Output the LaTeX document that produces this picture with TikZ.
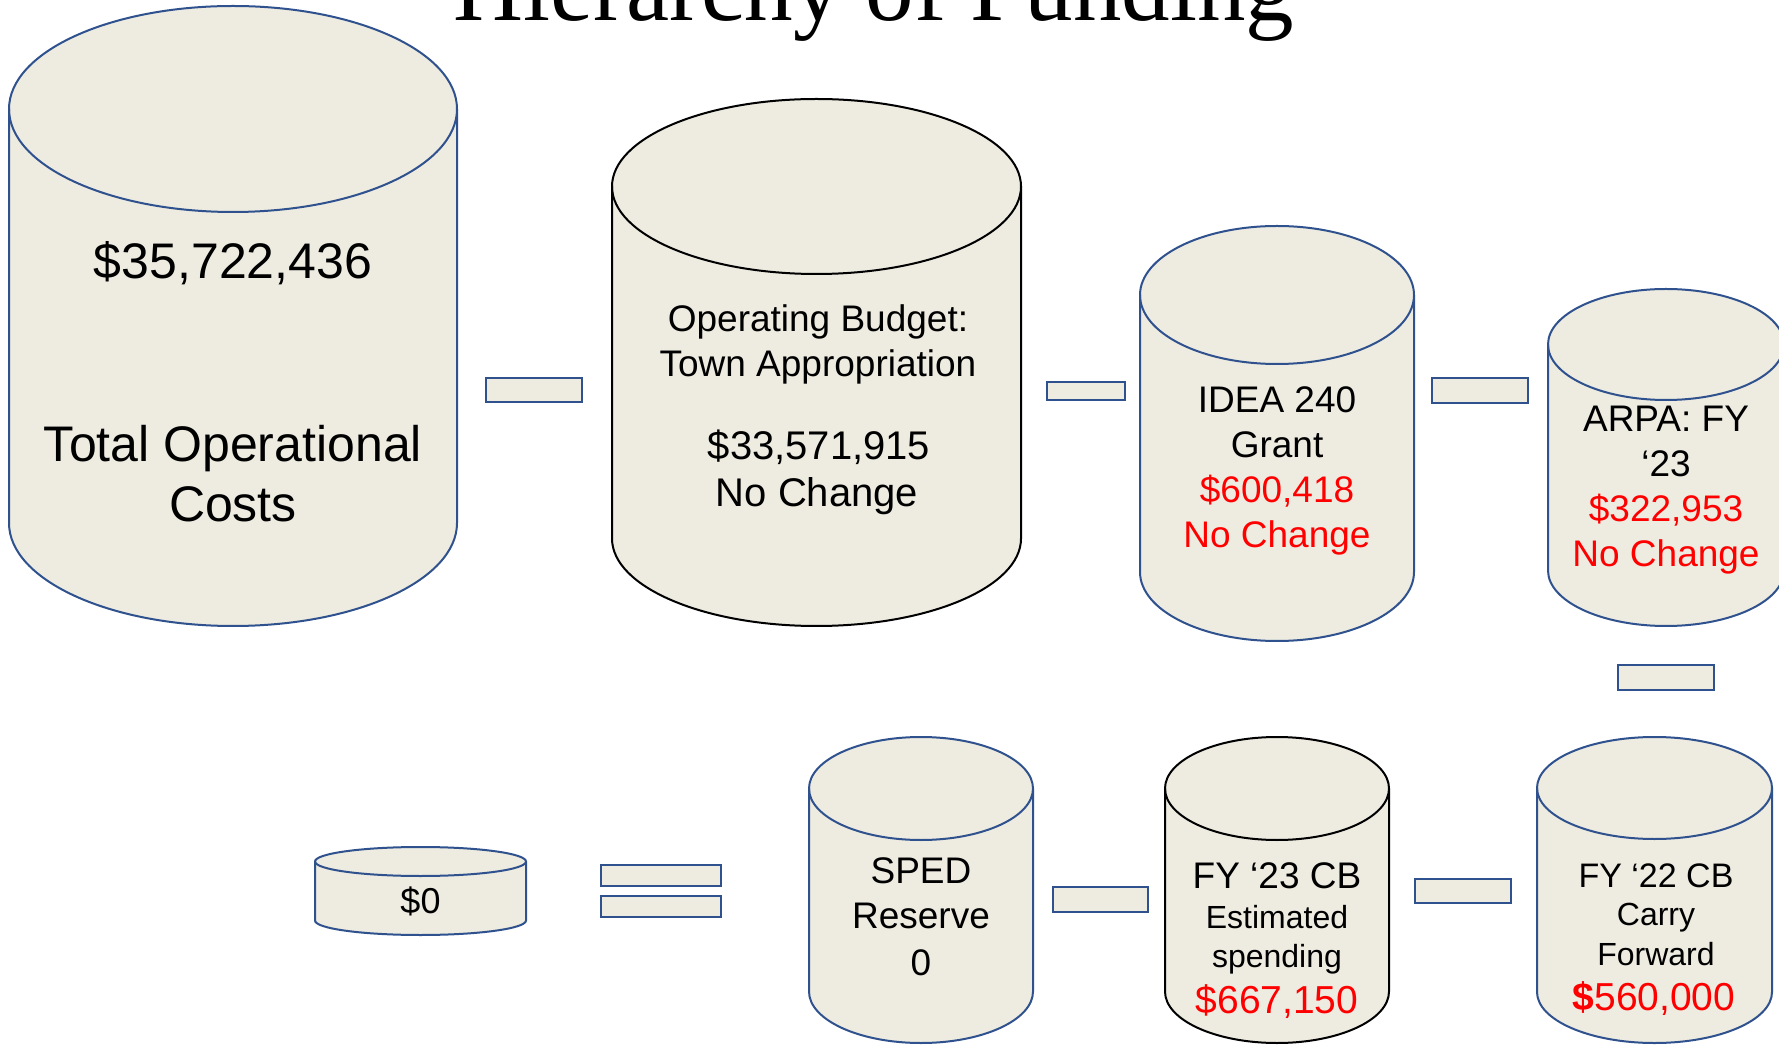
\documentclass[tikz,border=0pt]{standalone}
\usepackage{fontspec}
\setmainfont{Liberation Sans}
\newfontfamily\titlefont{Liberation Serif}
\definecolor{cylfill}{HTML}{EEECE1}
\definecolor{cylblue}{HTML}{2F528F}
\definecolor{txtred}{HTML}{FF0000}
\newcommand\fsz[1]{\fontsize{#1}{#1}\selectfont}
\newcommand\cylshape[6]{%
  \filldraw[line width=2pt, fill=cylfill, draw=#6] ({#1-#4},{#2-#5}) -- ({#1-#4},{#3+#5})
    arc[start angle=180,end angle=360,x radius=#4,y radius=#5] -- ({#1+#4},{#2-#5})
    arc[start angle=0,end angle=180,x radius=#4,y radius=#5] -- cycle;
  \draw[line width=2pt, draw=#6] ({#1-#4},{#2-#5})
    arc[start angle=180,end angle=360,x radius=#4,y radius=#5];
}
\tikzset{
  link/.style={draw=cylblue, fill=cylfill, line width=2pt, inner sep=0pt, outer sep=0pt},
  lbl/.style={anchor=base, inner sep=0pt, text=black},
  red/.style={text=txtred}
}
\begin{document}
\begin{tikzpicture}[x=1pt,y=1pt]
\useasboundingbox (0,0) rectangle (1779,1045);
\clip (0,0) rectangle (1779,1045);
\fill[white] (0,0) rectangle (1779,1045);

% title
\node[lbl] (title) at (874,1024) {\titlefont\fsz{97}Hierarchy of Funding};

% cylinders
\cylshape{233}{1039}{419}{224}{103}{cylblue}
\cylshape{816.5}{946}{419}{204.5}{87.5}{black}
\cylshape{1277}{819}{404}{137}{69}{cylblue}
\cylshape{1666}{756}{419}{118}{55.5}{cylblue}
\cylshape{420.5}{198}{110}{105.5}{14.5}{cylblue}
\cylshape{921}{308}{2}{112}{51.5}{cylblue}
\cylshape{1277}{308}{2}{112}{51.5}{black}
\cylshape{1654.5}{308}{2}{117.5}{51}{cylblue}

% link rectangles
\node[link, minimum width=96pt, minimum height=24pt] (r1) at (534,655) {};
\node[link, minimum width=78pt, minimum height=18pt] (r2) at (1086,654) {};
\node[link, minimum width=96pt, minimum height=25pt] (r3) at (1480,654.5) {};
\node[link, minimum width=96pt, minimum height=25pt] (r4) at (1666,367.5) {};
\node[link, minimum width=95pt, minimum height=25pt] (r5) at (1100.5,145.5) {};
\node[link, minimum width=96pt, minimum height=24pt] (r6) at (1463,154) {};
\node[link, minimum width=120pt, minimum height=21pt] (eq1) at (661,169.5) {};
\node[link, minimum width=120pt, minimum height=21pt] (eq2) at (661,138.5) {};

% texts: total
\node[lbl] (t1a) at (233,766) {\fsz{50}\$35,722,436};
\node[lbl] (t1b) at (233,583) {\fsz{50}Total Operational};
\node[lbl] (t1c) at (233,523) {\fsz{50}Costs};
% operating budget
\node[lbl] (t2a) at (818,713) {\fsz{37}Operating Budget:};
\node[lbl] (t2b) at (818,668) {\fsz{37}Town Appropriation};
\node[lbl] (t2c) at (819,585) {\fsz{40}\$33,571,915};
\node[lbl] (t2d) at (817,538) {\fsz{40}No Change};
% IDEA
\node[lbl] (t3a) at (1277,632) {\fsz{37}IDEA 240};
\node[lbl] (t3b) at (1277,587) {\fsz{37}Grant};
\node[lbl, red] (t3c) at (1277,542) {\fsz{37}\$600,418};
\node[lbl, red] (t3d) at (1277,497) {\fsz{37}No Change};
% ARPA
\node[lbl] (t4a) at (1666,613) {\fsz{37}ARPA: FY};
\node[lbl] (t4b) at (1666,568) {\fsz{37}‘23};
\node[lbl, red] (t4c) at (1666,523) {\fsz{37}\$322,953};
\node[lbl, red] (t4d) at (1666,478) {\fsz{37}No Change};
% $0
\node[lbl] (t5) at (420.5,132) {\fsz{36}\$0};
% SPED
\node[lbl] (t6a) at (921,162) {\fsz{37}SPED};
\node[lbl] (t6b) at (921,117) {\fsz{37}Reserve};
\node[lbl] (t6c) at (921,70) {\fsz{37}0};
% FY23
\node[lbl] (t7a) at (1277,157) {\fsz{37}FY ‘23 CB};
\node[lbl] (t7b) at (1277,117) {\fsz{32}Estimated};
\node[lbl] (t7c) at (1277,78) {\fsz{32}spending};
\node[lbl, red] (t7d) at (1277,32) {\fsz{39}\$667,150};
% FY22
\node[lbl] (t8a) at (1656,158) {\fsz{34}FY ‘22 CB};
\node[lbl] (t8b) at (1656,120) {\fsz{32}Carry};
\node[lbl] (t8c) at (1656,80) {\fsz{32}Forward};
\node[lbl, red] (t8d) at (1654,35) {\fsz{39}\textbf{\$}560,000};
\end{tikzpicture}
\end{document}
